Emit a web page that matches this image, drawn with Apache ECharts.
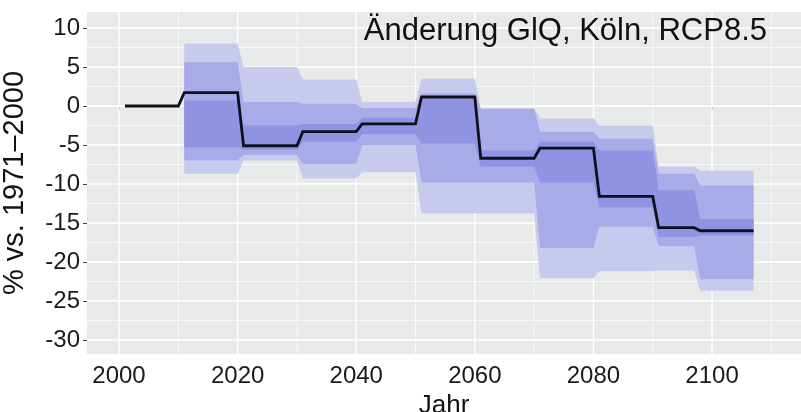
<!DOCTYPE html>
<html>
<head>
<meta charset="utf-8">
<script src="https://cdn.jsdelivr.net/npm/echarts@6/dist/echarts.min.js"></script>
<style>
  html, body { margin: 0; padding: 0; background: #ffffff; }
  #chart { width: 801px; height: 412px; }
</style>
</head>
<body>
<div id="chart"></div>
<script>
// Year span of each projection period
const periodStart = [2001, 2011, 2021, 2031, 2041, 2051, 2061, 2071, 2081, 2091, 2098];
const periodEnd   = [2010, 2020, 2030, 2040, 2050, 2060, 2070, 2080, 2090, 2097, 2107];

// Median change (%) per period
const median = [0, 1.7, -5.1, -3.3, -2.3, 1.15, -6.7, -5.4, -11.6, -15.6, -16.0];

// Ensemble spread per period (null: no spread for the reference period)
const outerHigh = [null, 8.0, 5.0, 3.4, 0.5, 3.5, -0.3, -1.6, -2.5, -7.8, -8.3];
const midHigh   = [null, 5.6, 0.5, 0.3, -0.3, 1.6, -0.4, -3.3, -4.2, -8.7, -10.2];
const innerHigh = [null, 0.7, -2.5, -2.3, -1.5, 1.2, -5.7, -4.6, -5.7, -10.8, -14.5];
const innerLow  = [null, -5.3, -5.6, -4.6, -3.6, -4.8, -7.8, -9.8, -13.0, -16.8, -16.6];
const midLow    = [null, -7.0, -6.3, -7.4, -5.0, -9.8, -9.8, -18.2, -15.5, -18.0, -22.2];
const outerLow  = [null, -8.7, -7.0, -9.3, -8.5, -13.8, -13.8, -22.1, -21.2, -21.1, -23.7];

// Axis ticks
const xTicks = [2000, 2020, 2040, 2060, 2080, 2100];
const yTicks = [-30, -25, -20, -15, -10, -5, 0, 5, 10];

const X_MIN = 1994.6, X_MAX = 2115;
const Y_MIN = -31.8, Y_MAX = 12.05;

// Step outline: each period is a flat run from its first to its last year
function stepPoints(values) {
  const pts = [];
  values.forEach((v, i) => {
    if (v === null) return;
    pts.push([periodStart[i], v], [periodEnd[i], v]);
  });
  return pts;
}

function ribbon(high, low) {
  const top = stepPoints(high);
  const bottom = stepPoints(low).reverse();
  return top.concat(bottom);
}

const ribbons = [
  { pts: ribbon(outerHigh, outerLow), color: '#c7caec' },
  { pts: ribbon(midHigh, midLow), color: '#a8abe7' },
  { pts: ribbon(innerHigh, innerLow), color: '#8f93e1' }
];

// Panel grid: major lines on ticks, minor lines halfway between
const xMinor = xTicks.map(t => t + 10).concat([xTicks[0] - 10]).filter(v => v > X_MIN && v < X_MAX);
const yMinor = yTicks.map(t => t + 2.5).concat([yTicks[0] - 2.5]).filter(v => v > Y_MIN && v < Y_MAX);
const gridLines = []
  .concat(xMinor.map(v => ({ value: [v, 0], dir: 'v', w: 0.7 })))
  .concat(yMinor.map(v => ({ value: [0, v], dir: 'h', w: 0.7 })))
  .concat(xTicks.map(v => ({ value: [v, 0], dir: 'v', w: 1.4 })))
  .concat(yTicks.map(v => ({ value: [0, v], dir: 'h', w: 1.4 })));

const FONT = '"Liberation Sans", Arial, sans-serif';

const chart = echarts.init(document.getElementById('chart'), null, { renderer: 'canvas' });

chart.setOption({
  animation: false,
  backgroundColor: '#ffffff',
  title: {
    text: 'Änderung GlQ, Köln, RCP8.5',
    right: 29,
    top: 11,
    textStyle: { fontFamily: FONT, fontSize: 31, fontWeight: 'normal', color: '#111111' }
  },
  grid: {
    left: 87, right: 0, top: 12, bottom: 58,
    outerBoundsMode: 'none',
    containLabel: false,
    show: true, backgroundColor: '#e7eae8', borderWidth: 0
  },
  xAxis: {
    type: 'value',
    min: X_MIN, max: X_MAX,
    name: 'Jahr',
    nameLocation: 'middle',
    nameGap: 38,
    nameTextStyle: { fontFamily: FONT, fontSize: 26, color: '#111111' },
    axisLine: { show: false },
    splitLine: { show: false },
    axisTick: { show: true, length: 4, lineStyle: { color: '#444444', width: 1 }, customValues: xTicks },
    axisLabel: {
      fontFamily: FONT, fontSize: 24, color: '#1a1a1a', margin: 10, customValues: xTicks,
      formatter: v => String(v)
    }
  },
  yAxis: {
    type: 'value',
    min: Y_MIN, max: Y_MAX,
    name: '% vs. 1971–2000',
    nameLocation: 'middle',
    nameGap: 58,
    nameTextStyle: { fontFamily: FONT, fontSize: 29, color: '#111111' },
    axisLine: { show: false },
    splitLine: { show: false },
    axisTick: { show: true, length: 4, lineStyle: { color: '#444444', width: 1 }, customValues: yTicks },
    axisLabel: {
      fontFamily: FONT, fontSize: 24, color: '#1a1a1a', margin: 7, customValues: yTicks,
      formatter: v => String(v)
    }
  },
  series: [
    {
      name: 'panel grid',
      type: 'custom',
      z: 1,
      silent: true,
      data: gridLines,
      renderItem: function (params, api) {
        const item = gridLines[params.dataIndex];
        let a, b;
        if (item.dir === 'v') {
          a = api.coord([item.value[0], Y_MIN]);
          b = api.coord([item.value[0], Y_MAX]);
        } else {
          a = api.coord([X_MIN, item.value[1]]);
          b = api.coord([X_MAX, item.value[1]]);
        }
        return {
          type: 'line',
          shape: { x1: a[0], y1: a[1], x2: b[0], y2: b[1] },
          style: { stroke: '#ffffff', lineWidth: item.w }
        };
      }
    },
    {
      name: 'spread',
      type: 'custom',
      z: 2,
      silent: true,
      data: ribbons.map((r, i) => ({ value: [2050, 0, i] })),
      renderItem: function (params, api) {
        const r = ribbons[params.dataIndex];
        return {
          type: 'polygon',
          shape: { points: r.pts.map(p => api.coord(p)) },
          style: { fill: r.color, stroke: null }
        };
      }
    },
    {
      name: 'median',
      type: 'line',
      z: 3,
      silent: true,
      showSymbol: false,
      data: stepPoints(median),
      lineStyle: { color: '#10101c', width: 2.8, join: 'miter' }
    }
  ]
});
</script>
</body>
</html>
